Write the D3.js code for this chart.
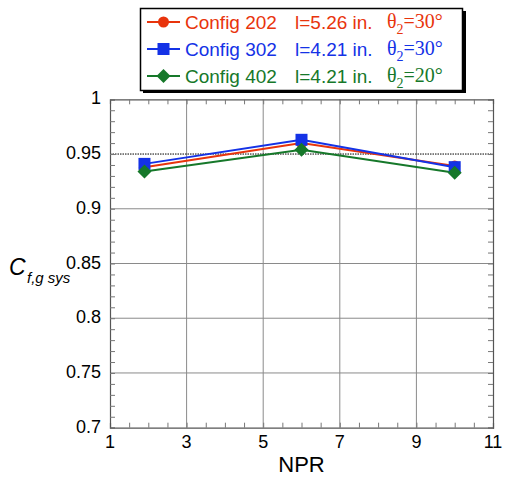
<!DOCTYPE html>
<html><head><meta charset="utf-8">
<script src="https://cdn.jsdelivr.net/npm/d3@7/dist/d3.min.js"></script>
<style>body{margin:0;background:#fff}svg{display:block}</style>
</head><body><svg id="c" width="505" height="478"></svg>
<script>
const npr = [1.9, 6, 10];
const config202 = [0.938, 0.960, 0.939];
const config302 = [0.941, 0.963, 0.938];
const config402 = [0.934, 0.954, 0.933];
const seriesNames = ["Config 202", "Config 302", "Config 402"];
const lengths = ["l=5.26 in.", "l=4.21 in.", "l=4.21 in."];
const thetas = ["30°", "30°", "20°"];
const xTicks = [1, 3, 5, 7, 9, 11];
const yTicks = [0.7, 0.75, 0.8, 0.85, 0.9, 0.95, 1];
const colors = ["#e8340c", "#1432e6", "#16782a"];
const markers = ["circle", "square", "diamond"];

const SANS = "'Liberation Sans',Arial,sans-serif";
const SERIF = "'Liberation Serif','Times New Roman',serif";
const svg = d3.select("#c").style("font-family", SANS);
const L = 110, R = 493, T = 99.3, B = 427.7;
const x = d3.scaleLinear().domain([1, 11]).range([L, R]);
const y = d3.scaleLinear().domain([0.7, 1]).range([B, T]);

// grid
const g = svg.append("g");
g.selectAll("line.gx").data(xTicks.slice(1, -1)).join("line")
  .attr("x1", d => x(d)).attr("x2", d => x(d)).attr("y1", T).attr("y2", B)
  .attr("stroke", "#8a8a8a").attr("stroke-width", 1);
g.selectAll("line.gy").data([0.75, 0.8, 0.85, 0.9]).join("line")
  .attr("y1", d => y(d)).attr("y2", d => y(d)).attr("x1", L).attr("x2", R)
  .attr("stroke", "#8a8a8a").attr("stroke-width", 1);
g.append("line").attr("x1", L).attr("x2", R).attr("y1", y(0.95)).attr("y2", y(0.95))
  .attr("stroke", "#000").attr("stroke-width", 1).attr("stroke-dasharray", "1.5,1");

// axes with minor ticks (inward)
const xMinor = d3.range(1, 11.01, 0.5);
const yMinor = d3.range(0.7, 1.0001, 0.01);
const axB = d3.axisBottom(x).tickValues(xMinor).tickSize(-5).tickFormat("");
const axT = d3.axisTop(x).tickValues(xMinor).tickSize(-5).tickFormat("");
const axL = d3.axisLeft(y).tickValues(yMinor).tickSize(-5).tickFormat("");
const axR = d3.axisRight(y).tickValues(yMinor).tickSize(-5).tickFormat("");
[[axB, `translate(0,${B})`], [axT, `translate(0,${T})`], [axL, `translate(${L},0)`], [axR, `translate(${R},0)`]].forEach(([a, t]) => {
  const gg = svg.append("g").attr("transform", t).call(a);
  gg.selectAll("line").attr("stroke", "#777");
  gg.select(".domain").attr("stroke", "#555").attr("stroke-width", 1.2);
});

// tick labels
svg.append("g").selectAll("text").data(xTicks).join("text")
  .attr("x", d => x(d)).attr("y", 448).attr("text-anchor", "middle")
  .style("font-size", "18px").text(d => d);
svg.append("g").selectAll("text").data(yTicks).join("text")
  .attr("x", L - 9).attr("y", d => y(d) + 5).attr("text-anchor", "end")
  .style("font-size", "18px").text(d => d);

svg.append("text").attr("x", x(6)).attr("y", 472).attr("text-anchor", "middle")
  .style("font-size", "22px").text("NPR");
svg.append("text").attr("x", 9).attr("y", 275).style("font-style", "italic")
  .style("font-size", "23px").text("C");
svg.append("text").attr("x", 27).attr("y", 283).style("font-style", "italic")
  .style("font-size", "15px").text("f,g sys");

// series
const series = [config202, config302, config402];
const line = d3.line().x((d, i) => x(npr[i])).y(d => y(d));
function marker(sel, type, cx, cy, color) {
  if (type === "circle") sel.append("circle").attr("cx", cx).attr("cy", cy).attr("r", 5.5).attr("fill", color);
  else if (type === "square") sel.append("rect").attr("x", cx - 6).attr("y", cy - 6).attr("width", 12).attr("height", 12).attr("fill", color);
  else sel.append("path").attr("d", `M${cx},${cy - 7}L${cx + 7},${cy}L${cx},${cy + 7}L${cx - 7},${cy}Z`).attr("fill", color);
}
[0, 1, 2].forEach(k => {
  svg.append("path").datum(series[k]).attr("d", line).attr("fill", "none")
    .attr("stroke", colors[k]).attr("stroke-width", 2);
});
[0, 1, 2].forEach(k => {
  const gm = svg.append("g");
  series[k].forEach((v, i) => marker(gm, markers[k], x(npr[i]), y(v), colors[k]));
});

// legend
const lg = svg.append("g");
lg.append("rect").attr("x", 143).attr("y", 11).attr("width", 323).attr("height", 82).attr("fill", "#000");
lg.append("rect").attr("x", 140.5).attr("y", 8.5).attr("width", 322).attr("height", 82)
  .attr("fill", "#fff").attr("stroke", "#000").attr("stroke-width", 1.5);
[0, 1, 2].forEach(k => {
  const cy = 22 + k * 27;
  lg.append("line").attr("x1", 147).attr("x2", 180).attr("y1", cy).attr("y2", cy)
    .attr("stroke", colors[k]).attr("stroke-width", 2);
  marker(lg, markers[k], 163.5, cy, colors[k]);
  lg.append("text").attr("x", 185).attr("y", cy + 7).style("font-size", "19px").attr("fill", colors[k]).text(seriesNames[k]);
  lg.append("text").attr("x", 295).attr("y", cy + 7).style("font-size", "19px").attr("fill", colors[k]).text(lengths[k]);
  const th = lg.append("text").attr("x", 387).attr("y", cy + 6).style("font-size", "20px")
    .style("font-family", SERIF).attr("fill", colors[k]);
  th.append("tspan").text("θ");
  th.append("tspan").style("font-size", "14px").attr("dy", 6).text("2");
  th.append("tspan").attr("dy", -6).text("=" + thetas[k]);
});
</script></body></html>
